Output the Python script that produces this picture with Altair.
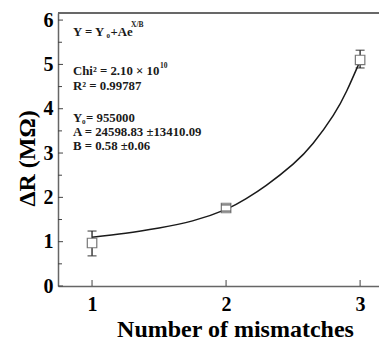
import altair as alt
import pandas as pd

# measured points
pt_x = [1, 2, 3]
pt_y = [0.97, 1.76, 5.10]
pt_lo = [0.68, 1.69, 4.92]
pt_hi = [1.24, 1.83, 5.32]

# fitted curve
fit_x = [1.0, 1.25, 1.5, 1.75, 2.0, 2.15, 2.3, 2.5, 2.65, 2.8, 2.9, 3.0]
fit_y = [1.10, 1.19, 1.31, 1.47, 1.73, 1.97, 2.27, 2.75, 3.22, 3.85, 4.40, 5.08]

y_major = [0, 1, 2, 3, 4, 5, 6]
y_minor = [0.5, 1.5, 2.5, 3.5, 4.5, 5.5]
x_ticks = [1, 2, 3]

FONT = "Liberation Serif"
W, H = 321, 273
XDOM = [0.746, 3.141]
YDOM = [0, 6.16]
FRAME = "#666666"

pts = pd.DataFrame({"x": pt_x, "y": pt_y, "lo": pt_lo, "hi": pt_hi})
fit = pd.DataFrame({"x": fit_x, "y": fit_y})
ymaj = pd.DataFrame({"v": y_major})
ymin = pd.DataFrame({"v": y_minor})
xt = pd.DataFrame({"v": x_ticks})

xs = alt.Scale(domain=XDOM, nice=False, zero=False)
ys = alt.Scale(domain=YDOM, nice=False, zero=False)

XAX = alt.Axis(
    values=x_ticks, format="d", ticks=False, grid=False, domainColor=FRAME, domainWidth=1.5,
    labelFont=FONT, labelFontWeight="bold", labelFontSize=20, labelColor="black", labelPadding=8,
    title="Number of mismatches", titleFont=FONT, titleFontWeight="bold", titleFontSize=24,
    titleColor="black", titleX=177, titleY=50, titleBaseline="alphabetic", titleAnchor="middle")
YAX = alt.Axis(
    values=y_major, format="d", ticks=False, grid=False, domainColor=FRAME, domainWidth=1.5,
    labelFont=FONT, labelFontWeight="bold", labelFontSize=20, labelColor="black", labelPadding=5,
    title="ΔR (MΩ)", titleFont=FONT, titleFontWeight="bold", titleFontSize=24, titleColor="black",
    titleX=-31, titleY=145, titleAngle=270, titleBaseline="middle", titleAnchor="middle")

def X(f):
    return alt.X(f, scale=xs, axis=XAX)

def Y(f):
    return alt.Y(f, scale=ys, axis=YAX)

curve = alt.Chart(fit).mark_line(color="#1a1a1a", strokeWidth=1.5, interpolate="natural").encode(
    x=X("x:Q"), y=Y("y:Q"))

err = alt.Chart(pts).mark_rule(color="#222222", strokeWidth=1.3).encode(
    x=X("x:Q"), y=Y("lo:Q"), y2="hi:Q")
sq = alt.Chart(pts).mark_point(shape="square", filled=True, fill="white", stroke="#777777",
                               strokeWidth=1.2, size=90, opacity=1).encode(x=X("x:Q"), y=Y("y:Q"))
cap_lo = alt.Chart(pts).mark_tick(color="#222222", orient="horizontal", size=9, thickness=1.3).encode(
    x=X("x:Q"), y=Y("lo:Q"))
cap_hi = alt.Chart(pts).mark_tick(color="#222222", orient="horizontal", size=9, thickness=1.3).encode(
    x=X("x:Q"), y=Y("hi:Q"))

ytick_major = alt.Chart(ymaj).mark_rule(color="#444444", strokeWidth=1).encode(
    y=Y("v:Q"), x=alt.value(0), x2=alt.value(5))
ytick_minor = alt.Chart(ymin).mark_rule(color="#444444", strokeWidth=1).encode(
    y=Y("v:Q"), x=alt.value(0), x2=alt.value(4))
xtick = alt.Chart(xt).mark_rule(color="#444444", strokeWidth=1).encode(
    x=X("v:Q"), y=alt.value(H), y2=alt.value(H - 6))
top_border = alt.Chart(xt).mark_rule(color=FRAME, strokeWidth=1.5).encode(
    x=alt.value(0), x2=alt.value(W), y=alt.value(0))

def txt(s, x, y, size=12.8):
    return alt.Chart(pd.DataFrame({"t": [s]})).mark_text(
        font=FONT, fontWeight="bold", fontSize=size, color="#1a1a1a", align="left", baseline="alphabetic"
    ).encode(text="t:N", x=alt.value(x), y=alt.value(y))

ann = [
    txt("Y = Y", 15, 23),
    txt("0", 48.5, 25, 7),
    txt("+Ae", 52.5, 23),
    txt("X/B", 73, 14, 7.5),
    txt("Chi² = 2.10 × 10", 15, 62),
    txt("10", 102, 55, 7.5),
    txt("R² = 0.99787", 15, 77),
    txt("Y", 15, 109),
    txt("0", 24, 111, 7),
    txt(" = 955000", 28, 109),
    txt("A = 24598.83 ±13410.09", 15, 123),
    txt("B = 0.58 ±0.06", 15, 137),
]

chart = alt.layer(
    curve, err, sq, cap_lo, cap_hi, top_border, ytick_major, ytick_minor, xtick, *ann
).properties(
    width=W, height=H,
    background="white",
    autosize=alt.AutoSizeParams(type="none"),
    padding={"left": 50, "top": 5, "right": 0, "bottom": 54},
).configure_view(stroke=None)

chart.save("out.html", embed_options={"renderer": "svg", "actions": False})
